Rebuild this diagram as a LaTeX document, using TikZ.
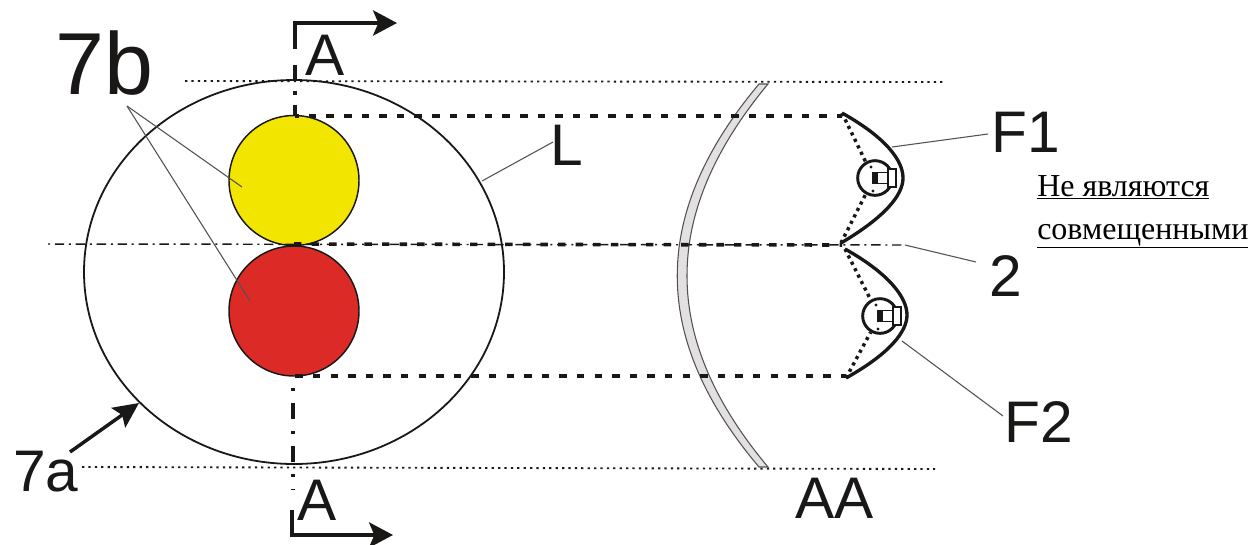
\documentclass[tikz,border=0pt]{standalone}
\usepackage{fontspec}
\setmainfont{Liberation Sans}
\newfontfamily\rufont{Liberation Serif}
\usetikzlibrary{arrows.meta}
\definecolor{ylw}{HTML}{F2E600}
\definecolor{rd}{HTML}{DC2B27}
\definecolor{lensfill}{HTML}{E2E0E0}
\definecolor{ink}{HTML}{1A1717}
\tikzset{
  x=0.75pt,y=-0.75pt,
  lab/.style={anchor=base west,inner sep=0pt,text=ink},
  bigt/.style={lab,font=\fontsize{66}{66}\selectfont},
  medt/.style={lab,font=\fontsize{44}{44}\selectfont},
  rust/.style={lab,text=black,font=\rufont\fontsize{24}{24}\selectfont},
  disc/.style={circle,draw=ink,line width=1.1pt,minimum size=97.5pt,inner sep=0pt},
  thinl/.style={draw=ink!75,line width=0.8pt},
  fineDots/.style={draw=ink,line width=1.4pt,dash pattern=on 1.7pt off 3.1pt},
  centreline/.style={draw=ink,line width=1.1pt,dash pattern=on 1.5pt off 3.6pt on 7pt off 3.6pt},
  axis/.style={draw=ink,line width=2.4pt},
  thickdash/.style={draw=ink,line width=2.7pt,dash pattern=on 5.6pt off 7.6pt},
  refl/.style={draw=ink,line width=2.5pt},
  lampdots/.style={draw=ink,line width=2.6pt,dash pattern=on 2.4pt off 3pt},
  bulb/.style={circle,draw=ink,line width=2.2pt,minimum size=26pt,inner sep=0pt},
  section/.style={draw=ink,line width=2.3pt,-{Stealth[length=18pt,width=19pt,inset=4pt,fill=ink]}},
  feed/.style={draw=ink,fill=white,line width=1.3pt},
}
\begin{document}
\begin{tikzpicture}
\useasboundingbox (0,0) rectangle (1253,544);

% limits
\coordinate (topL) at (185,81); \coordinate (topR) at (943,82);
\coordinate (botL) at (82,467); \coordinate (botR) at (935,469);
\draw[fineDots] (topL) -- (topR);
\draw[fineDots] (botL) -- (botR);

% main ellipse
\draw[ink,line width=1.35pt] (294,272) ellipse [x radius=210,y radius=192];

% coloured discs
\node[disc,fill=ylw] (yellow) at (294,180.5) {};
\node[disc,fill=rd] (red) at (294,311) {};

% lens
\filldraw[draw=ink!75,fill=lensfill,line width=0.8pt]
  (759,84) -- (768,84) .. controls (660,214) and (660,338) .. (768,467)
  -- (759,467) .. controls (650,338) and (650,214) .. (759,84) -- cycle;

% axes
\coordinate (hL) at (48,244); \coordinate (hR) at (905,245);
\coordinate (hM) at (294,244); \coordinate (hE) at (842,245);
\draw[centreline] (hL) -- (hR);
\draw[thickdash] (hM) -- (hE);

\coordinate (d1a) at (295,116); \coordinate (d1b) at (842,116);
\coordinate (d2a) at (295.4,376); \coordinate (d2b) at (846,376);
\draw[thickdash,dash phase=2.8pt] (d1a) -- (d1b);
\draw[thickdash] (d2a) -- (d2b);

% section marks
\coordinate (sT0) at (295,49); \coordinate (sT1) at (295,23); \coordinate (sT2) at (397,23);
\coordinate (sTa) at (295,65); \coordinate (sTb) at (295,116);
\coordinate (sB0) at (292,510); \coordinate (sB1) at (292,535); \coordinate (sB2) at (393,535);
\coordinate (sBa) at (293,387.5); \coordinate (sBb) at (293,490);
\draw[section] (sT0) -- (sT1) -- (sT2);
\draw[section] (sB0) -- (sB1) -- (sB2);
\draw[axis,dash pattern=on 11.25pt off 8.5pt on 2.5pt off 7.5pt] (sTa) -- (sTb);
\draw[axis,dash pattern=on 2.25pt off 9pt on 12pt off 9pt] (sBa) -- (sBb);

% reflectors
\coordinate (r1a) at (842,113); \coordinate (r1b) at (841,243);
\coordinate (r2a) at (845,249); \coordinate (r2b) at (846,378);
\node[bulb] (lamp1) at (875,178) {};
\node[bulb] (lamp2) at (880,316) {};
\draw[refl] (r1a) .. controls (885,137) and (903,160) .. (903,178)
  .. controls (903,195) and (885,217) .. (r1b);
\draw[refl] (r2a) .. controls (888,273) and (907,297) .. (907,315)
  .. controls (907,332) and (889,354) .. (r2b);
\draw[lampdots] (r1a) -- (lamp1.120);
\draw[lampdots] (r1b) -- (lamp1.240);
\draw[lampdots] (r2a) -- (lamp2.120);
\draw[lampdots] (r2b) -- (lamp2.240);
% lamp interiors
\foreach \cx/\cy in {875/178,880/316}{
  \draw[feed] (\cx+2,\cy-5.5) rectangle (\cx+13,\cy+5.5);
  \draw[feed] (\cx+13,\cy-9) rectangle (\cx+21,\cy+9);
  \fill[ink] (\cx-3.5,\cy-6) rectangle (\cx+2.5,\cy+6);
  \fill[ink] (\cx-4,\cy-11) circle (1.6);
  \fill[ink] (\cx-2,\cy+13) circle (1.6);
}

% labels
\node[bigt] (l7b) at (55,94) {7b};
\node[medt] (lAt) at (305,75) {A};
\node[medt] (lAb) at (297,520) {A};
\node[medt] (l7a) at (13,491) {7a};
\node[medt] (lL) at (550,165) {L};
\node[medt] (lF1) at (991,152) {F1};
\node[medt] (l2) at (989,296) {2};
\node[medt] (lF2) at (1004,442) {F2};
\node[medt] (lAA) at (795,518) {AA};
\node[rust] (ru1) at (1037,196) {\underline{Не являются}};
\node[rust] (ru2) at (1037,239) {\underline{совмещенными}};

% leaders
\coordinate (a7b) at (127,106);
\coordinate (yl) at (242,187); \coordinate (rl) at (250,301);
\draw[thinl] (a7b) -- (yl);
\draw[thinl] (a7b) -- (rl);
\coordinate (lEnd) at (482,181); \coordinate (lStart) at (553,142);
\draw[thinl] (lStart) -- (lEnd);
\coordinate (f1a) at (892,147); \coordinate (f1b) at (988,134);
\draw[thinl] (f1a) -- (f1b);
\coordinate (twoA) at (905,245); \coordinate (twoB) at (976,262);
\draw[thinl] (twoA) -- (twoB);
\coordinate (f2a) at (902,341); \coordinate (f2b) at (1003,416);
\draw[thinl] (f2a) -- (f2b);
\coordinate (a7from) at (70,452); \coordinate (a7to) at (139,403);
\draw[ink,line width=2.6pt,-{Stealth[length=19pt,width=18pt,inset=3.5pt,fill=ink]}] (a7from) -- (a7to);
\end{tikzpicture}
\end{document}
